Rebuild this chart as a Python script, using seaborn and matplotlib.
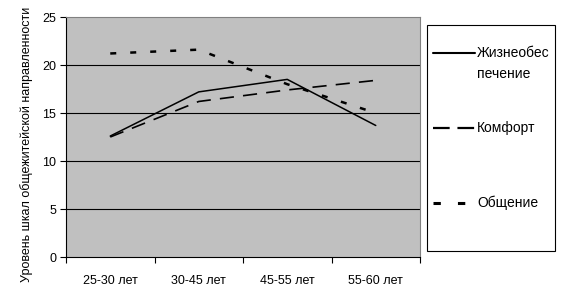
import matplotlib
matplotlib.use("Agg")
import matplotlib.pyplot as plt
import seaborn as sns
import pandas as pd
from matplotlib.patches import Rectangle
from matplotlib.lines import Line2D

categories = ["25-30 лет", "30-45 лет", "45-55 лет", "55-60 лет"]
series_names = ["Жизнеобес\nпечение", "Комфорт", "Общение"]
zhizn = [12.6, 17.2, 18.5, 13.7]
komfort = [12.5, 16.2, 17.4, 18.4]
obshch = [21.2, 21.6, 18.0, 15.0]
y_ticks = [0, 5, 10, 15, 20, 25]
y_label = "Уровень шкал общежитейской направленности"

rows = []
for name, vals in zip(series_names, [zhizn, komfort, obshch]):
    for i, v in enumerate(vals):
        rows.append({"pos": i, "value": v, "series": name})
df = pd.DataFrame(rows)

sns.set_style("white")
plt.rcParams["font.family"] = ["Liberation Sans", "DejaVu Sans"]
plt.rcParams["font.size"] = 9
plt.rcParams["text.color"] = "black"
plt.rcParams["xtick.color"] = "black"
plt.rcParams["ytick.color"] = "black"
plt.rcParams["axes.labelcolor"] = "black"

W, H = 567, 294
fig = plt.figure(figsize=(W/100, H/100), dpi=100)
ax = fig.add_axes([66/W, 1-257/H, (420-66)/W, (257-17)/H])
ax.set_facecolor("#C0C0C0")

widths = {series_names[0]: 1.1, series_names[1]: 1.2, series_names[2]: 1.8}
dash_map = {series_names[0]: None, series_names[1]: (8.5, 5.5), series_names[2]: (2.4, 5.6)}
sns.lineplot(data=df, x="pos", y="value", hue="series", style="series",
             palette=["black"]*3, dashes={n: "" for n in series_names},
             ax=ax, legend=False)
for line, name in zip(ax.lines, series_names):
    line.set_linewidth(widths[name])
    if dash_map[name] is not None:
        line.set_dashes(dash_map[name])
    line.set_zorder(3)

ax.set_xlim(-0.5, 3.5)
ax.set_ylim(0, 25)
ax.set_yticks(y_ticks)
ax.set_yticklabels([str(t) for t in y_ticks])
ax.set_xticks(range(len(categories)))
ax.set_xticklabels(categories)
ax.set_xticks([-0.5, 0.5, 1.5, 2.5, 3.5], minor=True)
ax.tick_params(axis="x", which="major", length=0, pad=13, labelsize=9)
ax.tick_params(axis="x", which="minor", length=4, width=0.8, color="black", direction="out", bottom=True)
ax.tick_params(axis="y", length=4, width=0.8, color="black", direction="out", left=True, labelsize=9, pad=3)
for y in y_ticks[1:-1]:
    ax.axhline(y, color="black", linewidth=0.8, zorder=1)
ax.set_xlabel("")
ax.set_ylabel(y_label, fontsize=9)
ax.yaxis.set_label_coords((27-66)/(420-66), (257-144)/(257-17))
ax.yaxis.label.set_verticalalignment("center")

ax.spines["left"].set_color("black")
ax.spines["bottom"].set_color("black")
ax.spines["top"].set_color("#808080")
ax.spines["right"].set_color("#808080")
for s in ax.spines.values():
    s.set_linewidth(0.8)

# legend box
fig.patches.append(Rectangle((427/W, 1-251/H), (555-427)/W, (251-25)/H,
                             transform=fig.transFigure, fill=False,
                             edgecolor="black", linewidth=0.8))
legend_y = [53, 128, 203]
for name, ly in zip(series_names, legend_y):
    ln = Line2D([433/W, 475/W], [1-ly/H, 1-ly/H], transform=fig.transFigure,
                color="black", linewidth=widths[name] + 0.4)
    if dash_map[name] is not None:
        ln.set_dashes(dash_map[name] if name != series_names[1] else (7.5, 3.5))
    fig.lines.append(ln)
    first, *rest = name.split("\n")
    fig.text(477/W, 1-ly/H, first, ha="left", va="center", fontsize=10)
    for k, extra in enumerate(rest):
        fig.text(477/W, 1-(ly+20.5*(k+1))/H, extra, ha="left", va="center", fontsize=10)

fig.savefig("out.png", dpi=100)
